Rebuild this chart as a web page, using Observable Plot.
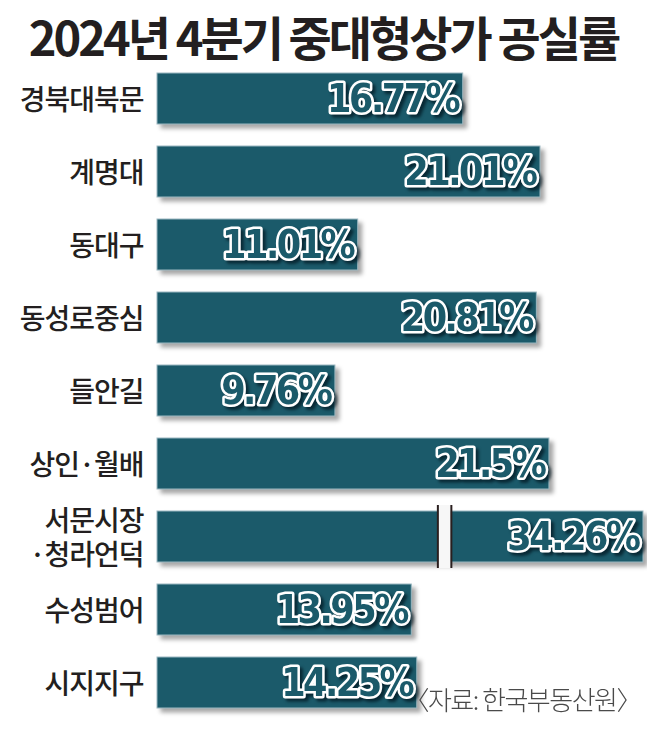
<!DOCTYPE html>
<html><head><meta charset="utf-8">
<script src="https://cdn.jsdelivr.net/npm/d3@7"></script>
<script src="https://cdn.jsdelivr.net/npm/@observablehq/plot@0.6"></script>
<style>
body{margin:0;background:#fff;}
#wrap{position:relative;width:647px;height:730px;overflow:hidden;}
#title{height:62px;line-height:72px;text-align:center;font-family:"Noto Sans CJK KR";font-weight:700;font-size:47px;letter-spacing:-3px;color:#231f20;white-space:nowrap;}
#source{position:absolute;right:6px;bottom:13px;font-family:"Noto Sans CJK KR";font-weight:300;font-size:26px;color:#4a4a4a;letter-spacing:-1.5px;}
</style></head>
<body>
<div id="wrap">
<div id="title">2024년 4분기 중대형상가 공실률</div>
<div id="chart"></div>
<div id="source">〈자료: 한국부동산원〉</div>
</div>
<script>
const regions = ["경북대북문","계명대","동대구","동성로중심","들안길","상인·월배","서문시장\n·청라언덕","수성범어","시지지구"];
const rates = [16.77,21.01,11.01,20.81,9.76,21.5,34.26,13.95,14.25];
const xMax = 26.66;      // visible end of the axis (longer bars are cut)
const breakAt = 15.75;   // where the long bar is broken
const cutRegion = regions[6];

const data = regions.map((r,i)=>({region:r, rate:rates[i]}));
const teal = "#1b5a6a";

const plot = Plot.plot({
  width:647, height:668,
  marginLeft:157, marginRight:4, marginTop:8, marginBottom:17.6,
  style:{fontFamily:"Noto Sans CJK KR", fontSize:"28px", color:"#231f20", background:"#fff"},
  x:{domain:[0,xMax], clamp:true, axis:null},
  y:{domain:regions, paddingInner:0.295, paddingOuter:0, label:null},
  marks:[
    Plot.barX(data,{x:"rate", y:"region", fill:teal}),
    Plot.barX([{region:cutRegion}],{x1:()=>breakAt-0.37, x2:()=>breakAt+0.37, y:"region", fill:"#f7f7f7", insetTop:-6, insetBottom:-6}),
    Plot.tickX([breakAt-0.37, breakAt+0.37],{x:d=>d, y:()=>cutRegion, stroke:"#2a1f1f", strokeWidth:2, insetTop:-6, insetBottom:-6}),
    Plot.axisY({tickSize:0, tickPadding:14, fontSize:28, lineHeight:1.22, fill:"#231f20", fontWeight:500}),
    Plot.text(data,{x:"rate", y:"region", text:d=>d.rate+"%", textAnchor:"end", dx:-5, dy:1,
      fill:teal, stroke:"white", strokeWidth:5, paintOrder:"stroke",
      fontFamily:"DejaVu Sans Condensed", fontWeight:"bold", fontSize:39})
  ]
});
document.getElementById("chart").appendChild(plot);
const bars = plot.querySelectorAll('g[aria-label="bar"]');
if (bars[0]) { bars[0].style.filter = "drop-shadow(4px 4px 2px rgba(0,0,0,0.35))"; bars[0].setAttribute("stroke","#9cb8c1"); bars[0].setAttribute("stroke-width","1"); }
const txt = plot.querySelector('g[aria-label="text"]');
if (txt) { txt.style.letterSpacing = "-2.5px"; txt.style.filter = "drop-shadow(3px 3px 1.5px rgba(0,20,30,0.7))"; }
const ylab = plot.querySelector('g[aria-label="y-axis tick label"]');
if (ylab) ylab.style.letterSpacing = "-1px";
</script>
</body></html>
